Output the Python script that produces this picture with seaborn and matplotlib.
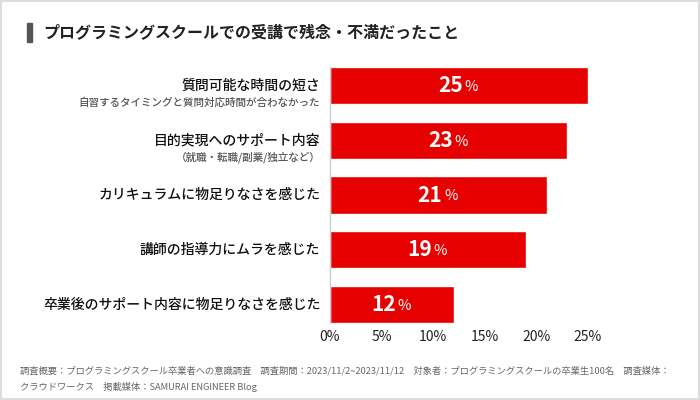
import matplotlib
matplotlib.use("Agg")
import matplotlib.pyplot as plt
import seaborn as sns
import pandas as pd
from matplotlib.patches import Rectangle

# ============================================================
# 데이터
# ============================================================
labels = [
    "質問可能な時間の短さ",
    "目的実現へのサポート内容",
    "カリキュラムに物足りなさを感じた",
    "講師の指導力にムラを感じた",
    "卒業後のサポート内容に物足りなさを感じた",
]
sub_labels = [
    "自習するタイミングと質問対応時間が合わなかった",
    "（就職・転職/副業/独立など）",
    "",
    "",
    "",
]
values = [25, 23, 21, 19, 12]
x_ticks = [0, 5, 10, 15, 20, 25]

title = "プログラミングスクールでの受講で残念・不満だったこと"
footer_lines = [
    "調査概要：プログラミングスクール卒業者への意識調査　調査期間：2023/11/2~2023/11/12　対象者：プログラミングスクールの卒業生100名　調査媒体：",
    "クラウドワークス　掲載媒体：SAMURAI ENGINEER Blog",
]

# ============================================================
# 기본 설정
# ============================================================
sns.set_style("white")
plt.rcParams["font.family"] = ["Noto Sans CJK JP", "DejaVu Sans"]
plt.rcParams["axes.unicode_minus"] = False

RED = "#E60000"

df = pd.DataFrame({"label": labels, "value": values})

fig = plt.figure(figsize=(7, 4), dpi=100)
ax = fig.add_axes([330 / 700, 77 / 400, 258 / 700, 256 / 400])

sns.barplot(data=df, x="value", y="label", orient="h", color=RED,
            width=0.68, saturation=1, ax=ax)

ax.set_xlim(0, 25)
ax.set_ylim(len(labels) - 1 + 0.34, -0.34)
ax.set_xlabel("")
ax.set_ylabel("")
ax.set_xticks(x_ticks)
ax.set_xticklabels([f"{t}%" for t in x_ticks], fontsize=10, color="#222222")
ax.set_yticks(range(len(labels)))
ax.set_yticklabels([])
ax.tick_params(axis="both", length=0)
ax.tick_params(axis="x", pad=5)

for s in ["top", "right", "bottom"]:
    ax.spines[s].set_visible(False)
ax.spines["left"].set_color("#cccccc")
ax.spines["left"].set_linewidth(1)

# 항목 라벨
trans = matplotlib.transforms.blended_transform_factory(ax.transAxes, ax.transData)
for i, (lab, sub) in enumerate(zip(labels, sub_labels)):
    ax.annotate(lab, xy=(0, i), xycoords=trans, xytext=(-7, 0),
                textcoords="offset points", ha="right", va="center",
                fontsize=10, fontweight="medium", color="#111111")
    if sub:
        ax.annotate(sub, xy=(0, i), xycoords=trans, xytext=(-7, -12),
                    textcoords="offset points", ha="right", va="center",
                    fontsize=7.6, fontweight="medium", color="#555555")

# 값 라벨
for i, v in enumerate(values):
    ax.annotate(f"{v}", xy=(v / 2, i), xytext=(3, 0),
                textcoords="offset points", ha="right", va="center",
                fontsize=15, fontweight="bold", color="white")
    ax.annotate("%", xy=(v / 2, i), xytext=(4, -1),
                textcoords="offset points", ha="left", va="center",
                fontsize=10.5, color="white")

# 제목
fig.patches.append(Rectangle((27 / 700, 1 - 42 / 400), 5 / 700, 19 / 400,
                             transform=fig.transFigure, color="#555555"))
fig.text(43 / 700, 1 - 32 / 400, title, fontsize=11.5, fontweight="bold",
         color="#222222", ha="left", va="center")

# 주석
fig.text(20 / 700, 1 - 371 / 400, footer_lines[0], fontsize=6.7,
         color="#666666", ha="left", va="center")
fig.text(20 / 700, 1 - 387 / 400, footer_lines[1], fontsize=6.7,
         color="#666666", ha="left", va="center")

# 테두리
fig.patches.append(Rectangle((0.001, 0.002), 0.997, 0.995, transform=fig.transFigure,
                             fill=False, edgecolor="#dddddd", linewidth=1.5))

plt.savefig("out.png", dpi=100)
